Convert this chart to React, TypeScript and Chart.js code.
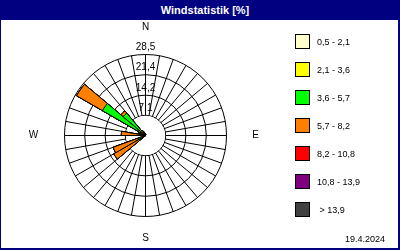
import React, { useEffect, useRef } from 'react';
import { Chart, registerables } from 'chart.js';

Chart.register(...registerables);

// 36 wind directions (degrees, sector start, clockwise from north)
const directionLabels = [
  '0', '10', '20', '30', '40', '50', '60', '70', '80',
  '90', '100', '110', '120', '130', '140', '150', '160', '170',
  '180', '190', '200', '210', '220', '230', '240', '250', '260',
  '270', '280', '290', '300', '310', '320', '330', '340', '350',
];

// speed classes (legend)
const bandLabels = ['0,5 - 2,1', '2,1 - 3,6', '3,6 - 5,7', '5,7 - 8,2', '8,2 - 10,8', '10,8 - 13,9', ' > 13,9'];
const bandColors = ['#FFFFCC', '#FFFF00', '#00FF00', '#FF8000', '#FF0000', '#800080', '#404040'];

// percentage per direction for each speed class
const band05to21 = [0.2, 0, 0, 0, 0, 0, 0, 0, 0, 0, 0, 0, 0, 0, 0, 0, 0, 0, 0, 0, 0, 0, 0.3, 0.4, 0.4, 0.3, 0.3, 0.5, 0.4, 0.5, 0.6, 0.6, 0.5, 0.4, 0.3, 0.2];
const band21to36 = [0.3, 0, 0, 0, 0, 0, 0, 0, 0, 0, 0, 0, 0, 0, 0, 0, 0, 0, 0, 0, 0, 0, 0, 0.8, 1.0, 0, 0.6, 1.0, 0.6, 1.0, 2.4, 2.2, 1.5, 0.8, 0.4, 0];
const band36to57 = [0, 0, 0, 0, 0, 0, 0, 0, 0, 0, 0, 0, 0, 0, 0, 0, 0, 0, 0, 0, 0, 0, 0, 1.5, 1.2, 0, 0, 1.0, 0, 1.0, 14.5, 7.5, 0, 0, 0, 0];
const band57to82 = [0, 0, 0, 0, 0, 0, 0, 0, 0, 0, 0, 0, 0, 0, 0, 0, 0, 0, 0, 0, 0, 0, 0, 10.2, 9.5, 0, 0, 6.0, 0, 0, 10.5, 1.0, 0, 0, 0, 0];
const band82to108 = [0, 0, 0, 0, 0, 0, 0, 0, 0, 0, 0, 0, 0, 0, 0, 0, 0, 0, 0, 0, 0, 0, 0, 0, 0, 0, 0, 0, 0, 0, 0, 0, 0, 0, 0, 0];
const band108to139 = [0, 0, 0, 0, 0, 0, 0, 0, 0, 0, 0, 0, 0, 0, 0, 0, 0, 0, 0, 0, 0, 0, 0, 0, 0, 0, 0, 0, 0, 0, 0, 0, 0, 0, 0, 0];
const bandOver139 = [0, 0, 0, 0, 0, 0, 0, 0, 0, 0, 0, 0, 0, 0, 0, 0, 0, 0, 0, 0, 0, 0, 0, 0, 0, 0, 0, 0, 0, 0, 0, 0, 0, 0, 0, 0];

// radial rings
const ringValues = [0, 7.1, 14.2, 21.4, 28.5];
const ringLabels = ['', '7,1', '14,2', '21,4', '28,5'];
const cardinalLabels = ['N', 'E', 'S', 'W'];

const chartTitle = 'Windstatistik [%]';
const dateLabel = '19.4.2024';

const NAVY = '#000080';

export default function App() {
  const canvasRef = useRef<HTMLCanvasElement>(null);

  useEffect(() => {
    const bands = [band05to21, band21to36, band36to57, band57to82, band82to108, band108to139, bandOver139];
    // cumulative (stacked) values for each class
    const stacked = bands.map((_, b) =>
      directionLabels.map((__, i) => {
        let s = 0;
        for (let k = 0; k <= b; k++) s += bands[k][i];
        return s;
      })
    );

    const halfPixel = {
      id: 'halfPixel',
      beforeDraw(chart: any) {
        chart.ctx.save();
        chart.ctx.translate(0.5, 0.5);
      },
      afterDraw(chart: any) {
        chart.ctx.restore();
      },
    };

    const innerDisc = {
      id: 'innerDisc',
      beforeDatasetsDraw(chart: any) {
        const s = chart.scales.r;
        const ctx = chart.ctx;
        const r = s.getDistanceFromCenterForValue(ringValues[1]);
        ctx.save();
        ctx.beginPath();
        ctx.arc(s.xCenter, s.yCenter, r - 0.5, 0, Math.PI * 2);
        ctx.fillStyle = '#ffffff';
        ctx.fill();
        ctx.restore();
      },
    };

    const labelsPlugin = {
      id: 'roseLabels',
      afterDatasetsDraw(chart: any) {
        const s = chart.scales.r;
        const ctx = chart.ctx;
        ctx.save();
        ctx.fillStyle = '#000';
        ctx.textAlign = 'center';
        ctx.textBaseline = 'middle';
        ctx.font = '10px "Liberation Sans", Arial, sans-serif';
        ringValues.forEach((v, i) => {
          if (!ringLabels[i]) return;
          const d = s.getDistanceFromCenterForValue(v);
          ctx.fillText(ringLabels[i], s.xCenter, s.yCenter - d - 7);
        });
        const idx = [0, 9, 18, 27];
        const extra = [27, 29, 22, 31];
        idx.forEach((ix, k) => {
          const p = s.getPointPosition(ix, s.drawingArea + extra[k]);
          ctx.fillText(cardinalLabels[k], p.x, p.y);
        });
        ctx.restore();
      },
    };

    const chart = new Chart(canvasRef.current!, {
      type: 'polarArea',
      data: {
        labels: directionLabels,
        datasets: bandLabels.map((label, b) => ({
          label,
          data: stacked[b],
          backgroundColor: bandColors[b],
          borderColor: '#000000',
          borderWidth: 1,
        })),
      },
      options: {
        responsive: false,
        maintainAspectRatio: false,
        animation: false,
        layout: { padding: { left: 64, right: 174, top: 54, bottom: 34 } },
        plugins: {
          legend: { display: false },
          title: { display: false },
          tooltip: { enabled: false },
        },
        scales: {
          r: {
            min: 0,
            max: 28.5,
            startAngle: 0,
            afterBuildTicks: (scale: any) => {
              scale.ticks = ringValues.map((v) => ({ value: v }));
            },
            ticks: { display: false },
            grid: { circular: true, color: '#000000', lineWidth: 1 },
            angleLines: { display: true, color: '#000000', lineWidth: 1 },
            pointLabels: { display: false },
          },
        },
      } as any,
      plugins: [halfPixel, innerDisc, labelsPlugin],
    });
    return () => chart.destroy();
  }, []);

  const font = '"Liberation Sans", Arial, sans-serif';

  return (
    <div
      style={{
        position: 'fixed',
        left: 0,
        top: 0,
        width: 400,
        height: 250,
        background: '#ffffff',
        overflow: 'hidden',
        fontFamily: font,
      }}
    >
      <canvas ref={canvasRef} width={400} height={250} style={{ position: 'absolute', left: 0, top: 0, width: 400, height: 250 }} />
      <div
        style={{
          position: 'absolute',
          left: 0,
          top: 0,
          width: 400,
          height: 20,
          background: NAVY,
          color: '#ffffff',
          fontWeight: 'bold',
          fontSize: 11,
          lineHeight: '20px',
          textAlign: 'center',
          paddingLeft: 10,
          boxSizing: 'border-box',
        }}
      >
        {chartTitle}
      </div>
      {bandLabels.map((label, i) => (
        <div key={label} style={{ position: 'absolute', left: 295, top: 34 + i * 28, height: 15, display: 'flex', alignItems: 'center' }}>
          <div style={{ width: 13, height: 13, border: '1px solid #000', background: bandColors[i] }} />
          <div style={{ marginLeft: 7, fontSize: 9, color: '#000', whiteSpace: 'pre' }}>{label}</div>
        </div>
      ))}
      <div style={{ position: 'absolute', left: 345, top: 234, fontSize: 9, color: '#000' }}>{dateLabel}</div>
      <div
        style={{
          position: 'absolute',
          left: 0,
          top: 0,
          width: 400,
          height: 250,
          boxSizing: 'border-box',
          borderLeft: `1px solid ${NAVY}`,
          borderRight: `2px solid ${NAVY}`,
          borderBottom: `2px solid ${NAVY}`,
          pointerEvents: 'none',
        }}
      />
    </div>
  );
}
